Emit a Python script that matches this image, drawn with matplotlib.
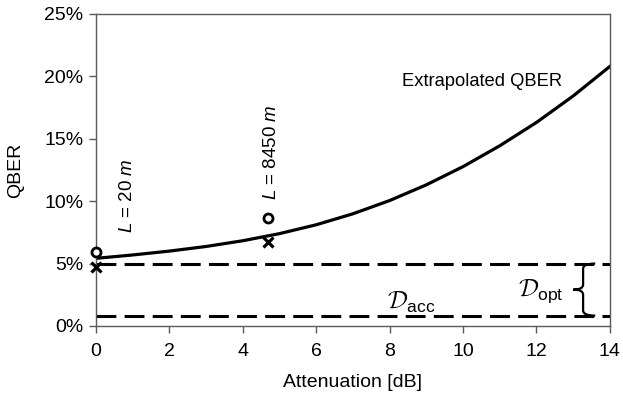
import matplotlib
matplotlib.use("Agg")
import matplotlib.pyplot as plt
from matplotlib.path import Path
from matplotlib.patches import PathPatch
from matplotlib.ticker import FuncFormatter

plt.rcParams['font.family'] = ['Liberation Sans', 'DejaVu Sans']
plt.rcParams['mathtext.fontset'] = 'custom'
plt.rcParams['mathtext.rm'] = 'Liberation Sans'
plt.rcParams['mathtext.it'] = 'Liberation Sans:italic'
plt.rcParams['mathtext.cal'] = 'cmsy10'

# Extrapolated QBER curve, attenuation in dB, QBER in %
curve_att = [0, 1, 2, 3, 4, 5, 6, 7, 8, 9, 10, 11, 12, 13, 14]
curve_qber = [5.42, 5.69, 6.00, 6.37, 6.83, 7.40, 8.11, 8.99, 10.05, 11.31,
              12.77, 14.44, 16.31, 18.43, 20.8]

# Measured points
meas_att = [0.0, 4.68]
meas_circle = [5.95, 8.63]
meas_cross = [4.75, 6.71]
meas_labels = ['$L$ = 20 $m$', '$L$ = 8450 $m$']

# Thresholds
d_upper = 5.0
d_lower = 0.83

x_ticks = [0, 2, 4, 6, 8, 10, 12, 14]
y_ticks = [0, 5, 10, 15, 20, 25]

fig = plt.figure(figsize=(6.23, 3.99), dpi=100)
ax = fig.add_axes([0.154, 0.183, 0.825, 0.782])

ax.plot(curve_att, curve_qber, color='black', lw=2.3, solid_joinstyle='round')
ax.plot(meas_att, meas_circle, linestyle='none', marker='o', ms=6.5,
        mfc='white', mec='black', mew=2.0, clip_on=False, zorder=4)
ax.plot(meas_att, meas_cross, linestyle='none', marker='x', ms=7.5,
        color='black', mew=2.3, clip_on=False, zorder=4)

for yv in (d_upper, d_lower):
    ax.plot([0, 14], [yv, yv], color='black', lw=2.2, dashes=(6.5, 2.7))

ax.set_xlim(0, 14)
ax.set_ylim(0, 25)
ax.set_xticks(x_ticks)
ax.set_yticks(y_ticks)
ax.yaxis.set_major_formatter(FuncFormatter(lambda v, p: f"{v:.0f}%"))

for s in ax.spines.values():
    s.set_color('#5a5a5a')
    s.set_linewidth(1.0)
ax.tick_params(axis='both', direction='out', length=5, width=1.0,
               color='#5a5a5a', labelsize=14)
ax.tick_params(axis='x', pad=7)
ax.tick_params(axis='y', pad=4)

ax.set_xlabel('Attenuation [dB]', fontsize=14)
ax.set_ylabel('QBER', fontsize=14)
ax.xaxis.set_label_coords(0.5, -0.155)
ax.yaxis.set_label_coords(-0.14, 0.5)

ax.text(8.34, 19.55, 'Extrapolated QBER', fontsize=13.2, ha='left', va='center')

ax.text(0.87, 7.45, meas_labels[0], rotation=90, fontsize=13.5,
        ha='center', va='bottom')
ax.text(4.79, 10.1, meas_labels[1], rotation=90, fontsize=13.5,
        ha='center', va='bottom')

ax.text(7.93, 1.35, r'$\mathcal{D}_{\mathrm{acc}}$', fontsize=18,
        ha='left', va='baseline')
ax.text(11.5, 2.45, r'$\mathcal{D}_{\mathrm{opt}}$', fontsize=18,
        ha='left', va='baseline')

# brace
xc = 13.27
mid = (d_upper + d_lower) / 2
hw, hh, tw = 0.33, 0.4, 0.27
verts = [(xc + hw, d_upper), (xc, d_upper), (xc, d_upper - hh),
         (xc, mid + hh), (xc, mid), (xc - tw, mid),
         (xc, mid), (xc, mid - hh),
         (xc, d_lower + hh), (xc, d_lower), (xc + hw, d_lower)]
codes = [Path.MOVETO, Path.CURVE3, Path.CURVE3,
         Path.LINETO, Path.CURVE3, Path.CURVE3,
         Path.CURVE3, Path.CURVE3,
         Path.LINETO, Path.CURVE3, Path.CURVE3]
ax.add_patch(PathPatch(Path(verts, codes), fill=False, lw=1.6, color='black'))

fig.savefig('out.png', dpi=100)
